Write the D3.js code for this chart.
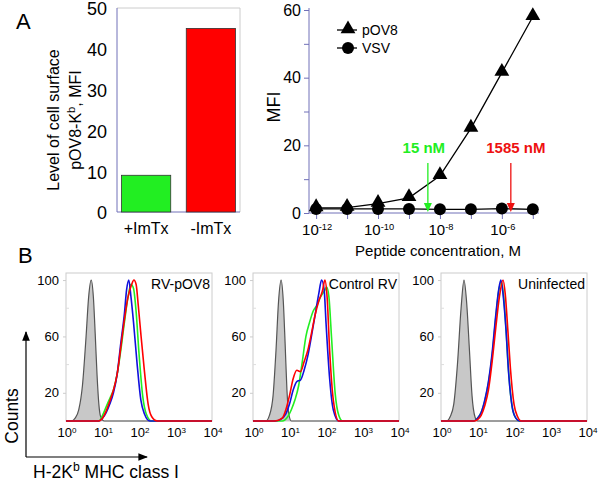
<!DOCTYPE html>
<html>
<head>
<meta charset="utf-8">
<script src="https://cdn.jsdelivr.net/npm/d3@7"></script>
<style>
  body { margin: 0; background: #fff; }
  svg { display: block; font-family: "Liberation Sans", Arial, sans-serif; }
</style>
</head>
<body>
<div id="chart"></div>
<script>
// ---- panel A, bars ----------------------------------------------------------
const barCats = ["+ImTx", "-ImTx"];
const barVals = [9, 45];
const barTicks = [0, 10, 20, 30, 40, 50];

// ---- panel A, titration -----------------------------------------------------
const concExp = [-12, -11, -10, -9, -8, -7, -6, -5];      // log10 M
const pov8Mfi = [1.5, 1.6, 2.8, 4.5, 11, 25, 41.5, 58];
const vsvMfi  = [1.2, 1.2, 1.2, 1.2, 1.1, 1.1, 1.3, 1.1];
const titrTicks = [-12, -10, -8, -6];
const arrowLabels = ["15 nM", "1585 nM"];
const arrowExp = [-8.39, -5.71];

// ---- panel B, histograms: [log10 fluorescence, % of max] --------------------
const pov8Gray  = [[0.15,0],[0.25,2],[0.35,8],[0.45,25],[0.55,60],[0.62,88],[0.69,100],[0.75,88],[0.8,62],[0.85,33],[0.9,12],[0.95,3],[1.05,0]];
const pov8Green = [[0.9,0],[1.0,4],[1.1,10],[1.2,16],[1.3,22],[1.4,33],[1.5,50],[1.6,70],[1.7,88],[1.78,97],[1.85,94],[1.92,78],[2.0,48],[2.1,18],[2.2,5],[2.35,0]];
const pov8Blue  = [[0.9,0],[1.0,2],[1.1,6],[1.2,12],[1.3,20],[1.4,33],[1.5,55],[1.6,76],[1.66,93],[1.72,100],[1.78,88],[1.85,70],[1.95,40],[2.05,15],[2.15,5],[2.3,0]];
const pov8Red   = [[0.9,0],[1.0,2],[1.1,7],[1.2,14],[1.3,22],[1.4,33],[1.5,52],[1.6,72],[1.7,88],[1.8,97],[1.86,100],[1.92,97],[1.98,82],[2.05,62],[2.15,35],[2.25,12],[2.35,3],[2.5,0]];

const ctrlGray  = [[0.35,0],[0.45,4],[0.55,18],[0.63,50],[0.7,85],[0.77,100],[0.83,85],[0.88,55],[0.93,22],[0.98,5],[1.05,0]];
const ctrlGreen = [[0.8,0],[0.95,3],[1.05,8],[1.15,15],[1.25,25],[1.35,42],[1.45,60],[1.55,70],[1.65,78],[1.75,82],[1.85,88],[1.95,92],[2.02,95],[2.08,88],[2.15,60],[2.25,20],[2.35,4],[2.45,0]];
const ctrlBlue  = [[0.6,0],[0.75,1],[0.9,5],[1.0,12],[1.1,22],[1.2,28],[1.3,29],[1.4,36],[1.5,46],[1.6,60],[1.7,75],[1.8,90],[1.88,100],[1.95,93],[2.0,70],[2.1,30],[2.2,8],[2.35,0]];
const ctrlRed   = [[0.6,0],[0.8,2],[0.9,8],[1.0,18],[1.1,30],[1.2,36],[1.3,35],[1.4,42],[1.5,50],[1.6,62],[1.7,75],[1.8,85],[1.9,92],[1.97,100],[2.03,88],[2.1,50],[2.2,15],[2.35,0]];

const uninGray  = [[0.15,0],[0.25,3],[0.35,12],[0.45,40],[0.55,80],[0.63,100],[0.7,85],[0.78,50],[0.85,18],[0.93,3],[1.0,0]];
const uninGreen = [[0.9,0],[1.0,2],[1.1,6],[1.2,14],[1.3,27],[1.4,46],[1.5,73],[1.58,92],[1.65,99],[1.71,90],[1.78,66],[1.85,36],[1.95,10],[2.05,2],[2.15,0]];
const uninBlue  = [[0.9,0],[1.0,2],[1.1,6],[1.2,15],[1.3,28],[1.4,48],[1.5,75],[1.58,93],[1.64,100],[1.7,90],[1.78,65],[1.85,35],[1.95,10],[2.05,2],[2.15,0]];
const uninRed   = [[0.9,0],[1.0,1],[1.1,4],[1.2,11],[1.3,22],[1.4,42],[1.5,66],[1.6,88],[1.7,100],[1.76,90],[1.83,65],[1.9,38],[2.0,12],[2.1,3],[2.2,0]];

const histTitles = ["RV-pOV8", "Control RV", "Uninfected"];
const histTicks = [0, 1, 2, 3, 4];
const countTicks = [20, 60, 100];

const COL = { green: "#22ee22", red: "#ff0000", blue: "#1010dd", gray: "#c8c8c8", axis: "#7070b8", frame: "#cccccc" };

const W = 601, H = 483;
const svg = d3.select("#chart").append("svg").attr("width", W).attr("height", H);

// helper: "10" with a superscript exponent
function sup(text, base, exp) {
  text.text(base).append("tspan").attr("dy", "-0.55em").style("font-size", "62%").text(exp);
}

// "K" + superscript "b" inside a label; dy in px so the baseline comes back
function kb(text, before, after, size) {
  text.append("tspan").text(before);
  text.append("tspan").attr("dy", -0.4 * size).style("font-size", "70%").text("b");
  text.append("tspan").attr("dy", 0.4 * size).text(after);
}

// panel letters
svg.append("text").attr("x", 16).attr("y", 29).style("font-size", "22px").text("A");
svg.append("text").attr("x", 18).attr("y", 263).style("font-size", "22px").text("B");

// =============================================================================
// A, left: bars
{
  const x = d3.scaleBand().domain(barCats).range([117, 240]).paddingInner(0.24).paddingOuter(0.07);
  const y = d3.scaleLinear().domain([0, 50]).range([212, 8]);
  const g = svg.append("g");
  g.append("path").attr("d", `M117,8H240V212`).attr("fill", "none").attr("stroke", COL.frame);
  g.append("path").attr("d", `M117,8V212H240`).attr("fill", "none").attr("stroke", COL.axis);
  const ax = g.append("g").attr("transform", "translate(117,0)")
    .call(d3.axisLeft(y).tickValues(barTicks).tickSize(0).tickPadding(10));
  ax.select(".domain").remove();
  ax.selectAll("text").style("font-size", "18px").attr("fill", "#000").attr("dy", "0.38em");
  g.selectAll("rect.bar").data(barVals).join("rect").attr("class", "bar")
    .attr("x", (d, i) => x(barCats[i])).attr("width", x.bandwidth())
    .attr("y", d => y(d)).attr("height", d => y(0) - y(d))
    .attr("fill", (d, i) => i === 0 ? COL.green : COL.red)
    .attr("stroke", "#333").attr("stroke-width", 0.8);
  g.selectAll("text.cat").data(barCats).join("text").attr("class", "cat")
    .attr("x", d => x(d) + x.bandwidth() / 2).attr("y", 234)
    .attr("text-anchor", "middle").style("font-size", "16px").text(d => d);
  g.append("text").attr("transform", "translate(0,120) rotate(-90)")
    .attr("text-anchor", "middle").attr("y", 59).style("font-size", "16px").text("Level of cell surface");
  const l2 = g.append("text").attr("transform", "translate(0,120) rotate(-90)")
    .attr("text-anchor", "middle").attr("y", 81).style("font-size", "16px");
  kb(l2, "pOV8-K", ", MFI", 16);
}

// =============================================================================
// A, right: titration
{
  const x = d3.scaleLinear().domain([-12.23, -4.8]).range([309, 539]);
  const y = d3.scaleLinear().domain([0, 60]).range([213, 10]);
  const g = svg.append("g");
  g.append("path").attr("d", "M309,8V213H539").attr("fill", "none").attr("stroke", COL.axis);
  const ya = g.append("g").attr("transform", "translate(309,0)")
    .call(d3.axisLeft(y).tickValues(d3.range(0, 61, 10)).tickSize(5).tickFormat(d => d % 20 ? "" : d));
  ya.select(".domain").remove();
  ya.selectAll("line").attr("stroke", COL.axis);
  ya.selectAll("text").style("font-size", "16px").attr("fill", "#000");
  const xa = g.append("g").attr("transform", "translate(0,213)")
    .call(d3.axisBottom(x).tickValues(concExp).tickSize(6).tickFormat(""));
  xa.select(".domain").remove();
  xa.selectAll("line").attr("stroke", COL.axis);
  g.selectAll("text.xt").data(titrTicks).join("text").attr("class", "xt")
    .attr("x", d => x(d) + 1).attr("y", 235).attr("text-anchor", "middle")
    .style("font-size", "15px").each(function (d) { sup(d3.select(this), "10", d); });

  const line = d3.line().x((d, i) => x(concExp[i])).y(d => y(d));
  g.append("path").datum(vsvMfi).attr("d", line).attr("fill", "none").attr("stroke", "#000").attr("stroke-width", 1.3);
  g.append("path").datum(pov8Mfi).attr("d", line).attr("fill", "none").attr("stroke", "#000").attr("stroke-width", 1.3);
  const tri = d3.symbol(d3.symbolTriangle, 95);
  g.selectAll("path.tri").data(pov8Mfi).join("path").attr("class", "tri")
    .attr("transform", (d, i) => `translate(${x(concExp[i])},${y(d) - 1})`).attr("d", tri);
  g.selectAll("circle.pt").data(vsvMfi).join("circle").attr("class", "pt")
    .attr("cx", (d, i) => x(concExp[i])).attr("cy", d => y(d)).attr("r", 6);

  // arrows
  const arrCol = [COL.green, "#ee1111"];
  arrowExp.forEach((e, i) => {
    const ax = x(e);
    g.append("line").attr("x1", ax).attr("x2", ax).attr("y1", 163).attr("y2", 204)
      .attr("stroke", arrCol[i]).attr("stroke-width", 1.3);
    g.append("path").attr("d", `M${ax - 4},203L${ax + 4},203L${ax},212Z`).attr("fill", arrCol[i]);
    g.append("text").attr("x", ax + (i ? 5 : -4)).attr("y", 153).attr("text-anchor", "middle")
      .style("font-size", "15px").style("font-weight", "bold").attr("fill", arrCol[i]).text(arrowLabels[i]);
  });

  // legend
  const leg = [["pOV8", "tri"], ["VSV", "circ"]];
  leg.forEach(([name, kind], i) => {
    const ly = 30 + i * 18;
    g.append("line").attr("x1", 337).attr("x2", 357).attr("y1", ly).attr("y2", ly).attr("stroke", "#000").attr("stroke-width", 1.3);
    if (kind === "tri") g.append("path").attr("transform", `translate(348,${ly - 1})`).attr("d", tri);
    else g.append("circle").attr("cx", 348).attr("cy", ly).attr("r", 6);
    g.append("text").attr("x", 362).attr("y", ly + 5).style("font-size", "14px").text(name);
  });

  g.append("text").attr("transform", "translate(280,107) rotate(-90)").attr("text-anchor", "middle")
    .style("font-size", "18px").text("MFI");
  g.append("text").attr("x", 438).attr("y", 256).attr("text-anchor", "middle")
    .style("font-size", "15px").text("Peptide concentration, M");
}

// =============================================================================
// B: histograms
{
  const panels = [
    { left: 66,  title: histTitles[0], curves: [pov8Gray, pov8Green, pov8Blue, pov8Red] },
    { left: 253, title: histTitles[1], curves: [ctrlGray, ctrlGreen, ctrlBlue, ctrlRed] },
    { left: 441, title: histTitles[2], curves: [uninGray, uninGreen, uninBlue, uninRed] }
  ];
  const pw = 146, top = 273, bot = 421;
  const y = d3.scaleLinear().domain([0, 105]).range([bot, top]);
  const strokes = ["#555", COL.green, COL.blue, COL.red];

  panels.forEach(p => {
    const x = d3.scaleLinear().domain([0, 4]).range([p.left, p.left + pw]);
    const g = svg.append("g");
    g.append("rect").attr("x", p.left).attr("y", top).attr("width", pw).attr("height", bot - top)
      .attr("fill", "none").attr("stroke", COL.frame);
    const ya = g.append("g").attr("transform", `translate(${p.left},0)`)
      .call(d3.axisLeft(y).tickValues(countTicks).tickSize(3).tickPadding(4));
    ya.select(".domain").remove();
    ya.selectAll("line").attr("stroke", COL.frame);
    ya.selectAll("text").style("font-size", "13px").attr("fill", "#000");
    g.selectAll("line.mt").data([40, 80]).join("line").attr("class", "mt")
      .attr("x1", p.left).attr("x2", p.left + 3).attr("y1", d => y(d)).attr("y2", d => y(d)).attr("stroke", "#ddd");
    g.selectAll("text.xt").data(histTicks).join("text").attr("class", "xt")
      .attr("x", d => x(d) + 1).attr("y", 437).attr("text-anchor", "middle").style("font-size", "13px")
      .each(function (d) { sup(d3.select(this), "10", d); });
    g.append("text").attr("x", p.left + pw - 2).attr("y", 289).attr("text-anchor", "end")
      .style("font-size", "14px").text(p.title);

    const line = d3.line().x(d => x(d[0])).y(d => y(d[1])).curve(d3.curveMonotoneX);
    p.curves.forEach((c, i) => {
      const pts = [[0, 0], ...c, [4, 0]];
      g.append("path").datum(pts).attr("d", line)
        .attr("fill", i === 0 ? COL.gray : "none")
        .attr("stroke", strokes[i]).attr("stroke-width", i === 0 ? 1.2 : 1.6);
    });
  });

  // axis arrows
  svg.append("defs").append("marker").attr("id", "ah").attr("viewBox", "0 0 10 10")
    .attr("refX", 9).attr("refY", 5).attr("markerWidth", 8).attr("markerHeight", 8)
    .attr("orient", "auto").append("path").attr("d", "M0,1L10,5L0,9Z").attr("fill", "#000");
  svg.append("line").attr("x1", 26).attr("y1", 457).attr("x2", 26).attr("y2", 332)
    .attr("stroke", "#000").attr("stroke-width", 1.2).attr("marker-end", "url(#ah)");
  svg.append("line").attr("x1", 26).attr("y1", 457).attr("x2", 147).attr("y2", 457)
    .attr("stroke", "#000").attr("stroke-width", 1.2).attr("marker-end", "url(#ah)");
  svg.append("text").attr("transform", "translate(18,416) rotate(-90)").attr("text-anchor", "middle")
    .style("font-size", "17.5px").text("Counts");
  const xl = svg.append("text").attr("x", 33).attr("y", 478).style("font-size", "17.5px");
  kb(xl, "H-2K", " MHC class I", 17.5);
}
</script>
</body>
</html>
